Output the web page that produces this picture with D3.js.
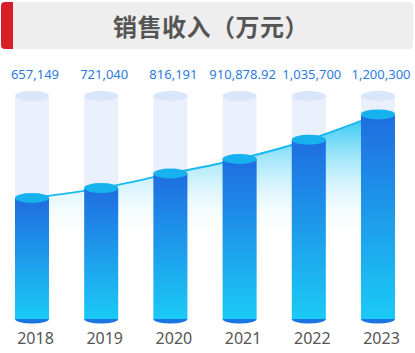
<!DOCTYPE html>
<html>
<head>
<meta charset="utf-8">
<script src="https://cdn.jsdelivr.net/npm/d3@7"></script>
<style>
  html, body { margin: 0; padding: 0; background: #fff; }
  svg { display: block; }
</style>
</head>
<body>
<div id="chart"></div>
<script>
// data
const years = ["2018", "2019", "2020", "2021", "2022", "2023"];
const sales = [657149, 721040, 816191, 910878.92, 1035700, 1200300];
const title = "销售收入（万元）";
// value range the cylinders stand for (bottom / top of the light cylinder)
const axisMin = -130000;
const axisMax = 1320000;

const width = 415, height = 353;
const svg = d3.select("#chart").append("svg")
  .attr("width", width)
  .attr("height", height);

const defs = svg.append("defs");
// bar body gradient
const barGrad = defs.append("linearGradient")
  .attr("id", "barGrad").attr("x1", 0).attr("y1", 0).attr("x2", 0).attr("y2", 1);
barGrad.append("stop").attr("offset", "0%").attr("stop-color", "#1f6de0");
barGrad.append("stop").attr("offset", "100%").attr("stop-color", "#1bcaf6");
// area under line
const areaGrad = defs.append("linearGradient")
  .attr("id", "areaGrad").attr("gradientUnits", "userSpaceOnUse")
  .attr("x1", 0).attr("y1", 112).attr("x2", 0).attr("y2", 240);
areaGrad.append("stop").attr("offset", "0%").attr("stop-color", "#1ec2f2").attr("stop-opacity", 1);
areaGrad.append("stop").attr("offset", "100%").attr("stop-color", "#ffffff").attr("stop-opacity", 0);

// header
svg.append("rect")
  .attr("x", 1).attr("y", 2).attr("width", 412).attr("height", 47)
  .attr("rx", 4).attr("fill", "#eeeeee");
svg.append("path")
  .attr("d", "M13,2 H5 Q1,2 1,6 V45 Q1,49 5,49 H13 Z")
  .attr("fill", "#d81e28");
svg.append("text")
  .attr("x", 211).attr("y", 36)
  .attr("text-anchor", "middle")
  .attr("font-family", "'Noto Sans CJK SC', sans-serif")
  .attr("font-weight", "bold")
  .attr("font-size", 24)
  .attr("letter-spacing", 0.5)
  .attr("fill", "#555")
  .text(title);

const x = d3.scalePoint().domain(years).range([32, 378]);
const y = d3.scaleLinear().domain([axisMin, axisMax]).range([319, 96]);
const barW = 34, rx = barW / 2, ry = 5;

const data = years.map((d, i) => ({ year: d, value: sales[i] }));

// light background cylinders
const bg = svg.append("g");
bg.selectAll("rect").data(data).enter().append("rect")
  .attr("x", d => x(d.year) - rx)
  .attr("y", y(axisMax))
  .attr("width", barW)
  .attr("height", y(axisMin) - y(axisMax))
  .attr("fill", "#e9f0fc");
bg.selectAll("ellipse").data(data).enter().append("ellipse")
  .attr("cx", d => x(d.year))
  .attr("cy", y(axisMax))
  .attr("rx", rx).attr("ry", ry)
  .attr("fill", "#d9e5f9");

// area + line through bar tops
const area = d3.area()
  .x(d => x(d.year))
  .y0(240)
  .y1(d => y(d.value))
  .curve(d3.curveMonotoneX);
const line = d3.line()
  .x(d => x(d.year))
  .y(d => y(d.value))
  .curve(d3.curveMonotoneX);
svg.append("path").datum(data).attr("d", area).attr("fill", "url(#areaGrad)");
svg.append("path").datum(data).attr("d", line)
  .attr("fill", "none").attr("stroke", "#1ab9ee").attr("stroke-width", 2);

// value cylinders
const bars = svg.append("g");
bars.selectAll(".bottom").data(data).enter().append("ellipse")
  .attr("class", "bottom")
  .attr("cx", d => x(d.year))
  .attr("cy", y(axisMin))
  .attr("rx", rx).attr("ry", 4.5)
  .attr("fill", "#1a74e2");
bars.selectAll(".body").data(data).enter().append("rect")
  .attr("class", "body")
  .attr("x", d => x(d.year) - rx)
  .attr("y", d => y(d.value))
  .attr("width", barW)
  .attr("height", d => y(axisMin) - y(d.value))
  .attr("fill", "url(#barGrad)");
bars.selectAll(".top").data(data).enter().append("ellipse")
  .attr("class", "top")
  .attr("cx", d => x(d.year))
  .attr("cy", d => y(d.value))
  .attr("rx", rx).attr("ry", ry)
  .attr("fill", "#15b2ee");

// value labels
const fmt = d3.format(",");
svg.append("g").selectAll("text").data(data).enter().append("text")
  .attr("x", d => x(d.year) + 3)
  .attr("y", 79)
  .attr("text-anchor", "middle")
  .attr("font-family", "'Noto Sans', sans-serif")
  .attr("font-size", 13)
  .attr("fill", "#2c7ce0")
  .text(d => fmt(d.value));

// year axis
const axis = svg.append("g")
  .attr("transform", "translate(0,344)")
  .call(d3.axisBottom(x).tickSize(0).tickPadding(0));
axis.select(".domain").remove();
axis.selectAll("text")
  .attr("dy", 0).attr("x", 3)
  .attr("font-family", "'Noto Sans', sans-serif")
  .attr("font-size", 16)
  .attr("fill", "#555");
</script>
</body>
</html>
